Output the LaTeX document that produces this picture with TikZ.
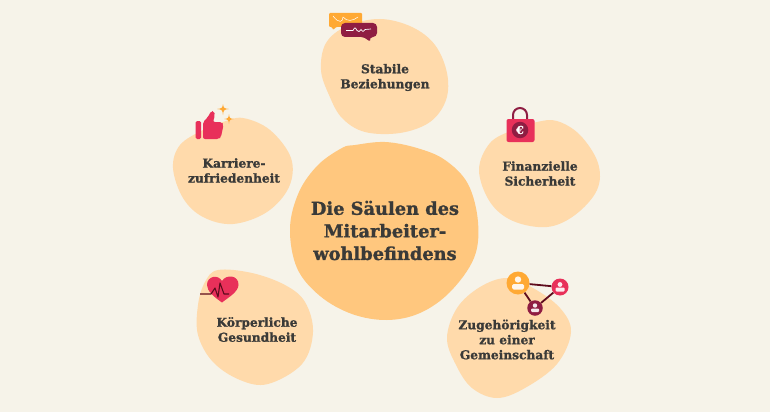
\documentclass[tikz,border=0pt]{standalone}
\usepackage{fontspec}
\setmainfont[BoldFeatures={FakeBold=1.2}]{DejaVu Serif}
\definecolor{paper}{HTML}{F6F3E9}
\definecolor{petal}{HTML}{FFDAAB}
\definecolor{core}{HTML}{FFC77E}
\definecolor{ink}{HTML}{3A3A38}
\definecolor{rose}{HTML}{E8305A}
\definecolor{wine}{HTML}{8F1D42}
\definecolor{amber}{HTML}{FFA934}
\definecolor{dark}{HTML}{5E0B1C}
\tikzset{
  petalblob/.style={fill=petal},
  smalllabel/.style={text=ink, align=center, font=\bfseries\fontsize{12.2}{15}\selectfont, inner sep=0pt},
}
\begin{document}
\begin{tikzpicture}[x=1pt, y=-1pt]
\fill[paper] (0,0) rectangle (770,412);
\useasboundingbox (0,0) rectangle (770,412);
\fill[core] plot[smooth cycle, tension=0.6] coordinates {(355,145) (385,142) (417,148) (445,160) (468,184) (478,222) (474,258) (450,292) (420,313) (387,320) (352,314) (320,296) (297,268) (290,228) (299,192) (318,165) (342,148)};
\fill[petalblob] plot[smooth cycle, tension=0.6] coordinates {(380,19) (412,27) (435,45) (447,73) (446,100) (430,122) (400,133) (365,132) (342,118) (329,95) (321,70) (326,43) (347,26)};
\fill[petalblob] plot[smooth cycle, tension=0.6] coordinates {(243,118) (270,130) (291,158) (289,187) (267,212) (233,224) (203,217) (183,198) (173,168) (180,145) (203,130) (223,122)};
\fill[petalblob] plot[smooth cycle, tension=0.6] coordinates {(557,121) (580,135) (598,163) (597,190) (575,215) (547,227) (513,221) (490,202) (479,170) (490,143) (513,130) (537,122)};
\fill[petalblob] plot[smooth cycle, tension=0.6] coordinates {(218,270) (252,273) (285,285) (305,302) (313,332) (302,364) (268,384) (240,380) (213,362) (198,335) (198,305) (205,282)};
\fill[petalblob] plot[smooth cycle, tension=0.6] coordinates {(507,278) (533,288) (560,308) (571,332) (557,364) (525,388) (497,398) (472,388) (456,365) (447,338) (457,308) (480,287)};
\node[text=ink, align=center, font=\bfseries\fontsize{17.8}{22.6}\selectfont, inner sep=0pt] (title) at (385,230.5) {Die Säulen des\\Mitarbeiter-\\wohlbefindens};
\node[smalllabel] (bonds) at (385,77.5) {Stabile\\Beziehungen};
\node[smalllabel] (career) at (234,170.5) {Karriere-\\zufriedenheit};
\node[smalllabel] (money) at (540,173.5) {Finanzielle\\Sicherheit};
\node[smalllabel] (health) at (257,329.5) {Körperliche\\Gesundheit};
\node[smalllabel] (belong) at (507,339.5) {Zugehörigkeit\\zu einer\\Gemeinschaft};
\fill[amber, rounded corners=1pt] (329,13) -- (362,13) -- (362,27) -- (336,27) -- (333,30) -- (332,27) -- (329,27) -- cycle;
\draw[white, line width=0.5pt] (333,16) .. controls (339,24) and (343,22) .. (343,17);
\draw[white, line width=0.5pt] (343,17) .. controls (347,22) and (353,21) .. (358,17);
\fill[wine, rounded corners=4pt] (341,23) -- (377,23) -- (377,37) -- (369,37) -- (370.5,43) -- (365,37) -- (341,37) -- cycle;
\draw[white, line width=0.7pt] (346,30.5) -- (353,30.5) .. controls (355,27) .. (357,30.5) .. controls (359,32) .. (361,29.5) .. controls (363,32) .. (365,29.5) -- (371,29);
\fill[rose, rounded corners=1.5pt] (195.5,121) rectangle (201,139);
\fill[rose, rounded corners=2pt] (203,122) -- (208,117) -- (211,111) -- (214,111) -- (215,115) -- (213,122) -- (222,122) -- (223.5,125) -- (221,137) -- (219,139) -- (203,139) -- cycle;
\fill[amber] (223,104) .. controls (223.5,108) and (224,108.5) .. (229,109) .. controls (224,109.5) and (223.5,110) .. (223,115) .. controls (222.5,110) and (222,109.5) .. (217,109) .. controls (222,108.5) and (222.5,108) .. (223,104) -- cycle;
\fill[amber] (229,114) .. controls (229.4,118) and (230,118.6) .. (234,119) .. controls (230,119.4) and (229.4,120) .. (229,124) .. controls (228.6,120) and (228,119.4) .. (224,119) .. controls (228,118.6) and (228.6,118) .. (229,114) -- cycle;
\draw[wine, line width=2pt] (513,120) -- (513,115) arc (180:360:7 and 7) -- (527,120);
\fill[rose, rounded corners=2pt] (506.5,119) rectangle (534.5,142);
\node[circle, fill=wine, inner sep=0pt, minimum size=16.5pt, text=white, font=\bfseries\fontsize{11}{11}\selectfont] (euro) at (520,130) {€};
\fill[rose] (222,302.5) .. controls (214,297) and (207,291) .. (207,285) .. controls (207,276) and (218,274) .. (222,281) .. controls (226,274) and (239,275) .. (238.5,285) .. controls (238,292) and (229,297) .. (222,302.5) -- cycle;
\draw[dark, line width=1.1pt, line join=round] (200,294) -- (211,294) -- (215,288) -- (218,297) -- (220,283) -- (224,294) -- (229,294);
\node[circle, fill=amber, inner sep=0pt, minimum size=23pt] (hub) at (518,283) {};
\node[circle, fill=rose, inner sep=0pt, minimum size=17pt] (peer) at (560,287) {};
\node[circle, fill=wine, inner sep=0pt, minimum size=15.5pt] (member) at (535,308) {};
\draw[dark, line width=1.8pt] (hub) -- (peer);
\draw[dark, line width=1.8pt] (peer) -- (member);
\draw[dark, line width=1.8pt] (member) -- (hub);
\fill[white!90!amber] (518,279.5) circle [radius=3.2];
\fill[white!90!amber, rounded corners=1.5pt] (512,289.5) rectangle (524,284);
\fill[white!90!rose] (560,284.5) circle [radius=2.4];
\fill[white!90!rose, rounded corners=1pt] (555.5,291.5) rectangle (564.5,287.5);
\fill[white!90!wine] (535,305.5) circle [radius=2.2];
\fill[white!90!wine, rounded corners=1pt] (531,312) rectangle (539,308.5);
\end{tikzpicture}
\end{document}
